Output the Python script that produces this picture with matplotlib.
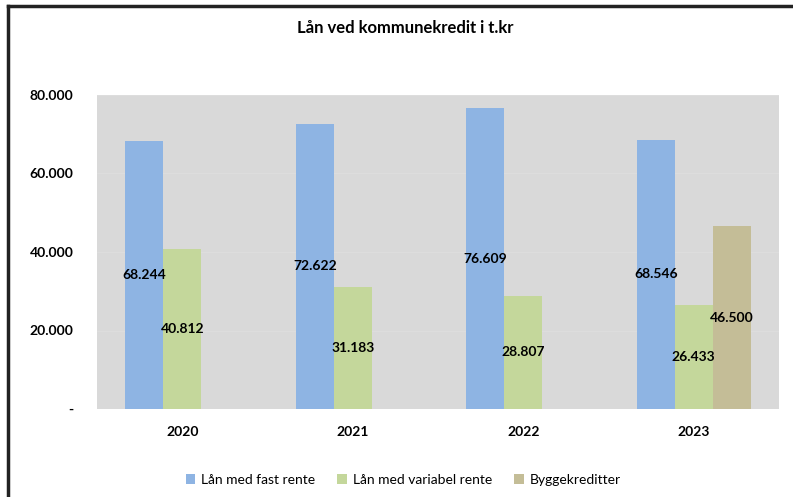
import matplotlib.pyplot as plt
from matplotlib.lines import Line2D
from matplotlib.patches import Patch
import numpy as np

# Colors
BLUE = '#8EB4E3'
GREEN = '#C4D79B'
TAN = '#C4BD97'
BG = '#D9D9D9'

years = ['2020', '2021', '2022', '2023']
fast = [68244, 72622, 76609, 68546]
variabel = [40812, 31183, 28807, 26433]
bygge = [None, None, None, 46500]
series_names = ['Lån med fast rente', 'Lån med variabel rente', 'Byggekreditter']

plt.rcParams['font.family'] = ['Lato', 'DejaVu Sans']


def fmt(v):
	if v == 0:
		return '-'
	return f'{v:,.0f}'.replace(',', '.')


fig = plt.figure(figsize=(7.93, 4.97), dpi=100)
ax = fig.add_axes([97 / 793, 1 - 409 / 497, 682 / 793, 314 / 497])
ax.set_facecolor(BG)

x = np.arange(len(years))
w = 0.2226
series = [fast, variabel, bygge]
colors = [BLUE, GREEN, TAN]
for i, (vals, c) in enumerate(zip(series, colors)):
	for j, v in enumerate(vals):
		if v is None:
			continue
		xpos = x[j] + (i - 1) * w
		ax.bar(xpos, v, width=w, color=c, zorder=2)
		ax.text(xpos, v / 2, fmt(v), ha='center', va='center',
				fontsize=10, fontweight='bold', color='black', zorder=3)

ax.set_xlim(-0.5, 3.5)
ax.set_ylim(0, 80000)
yt = [0, 20000, 40000, 60000, 80000]
ax.set_yticks(yt)
ax.set_yticklabels([fmt(v) for v in yt], fontsize=10, fontweight='bold')
ax.set_xticks(x)
ax.set_xticklabels(years, fontsize=10, fontweight='bold')
ax.tick_params(axis='both', length=0)
ax.tick_params(axis='y', pad=17)
ax.tick_params(axis='x', pad=12)
ax.grid(True, axis='y', color='#DEDEDE', linewidth=0.6, zorder=1)
for s in ax.spines.values():
	s.set_visible(False)

fig.text(405 / 793, 1 - 28 / 497, 'Lån ved kommunekredit i t.kr',
		 ha='center', va='center', fontsize=12, fontweight='bold')

handles = [Patch(facecolor=c, edgecolor='none') for c in colors]
fig.legend(handles, series_names, loc='center', bbox_to_anchor=(403 / 793, 1 - 480 / 497),
		   ncol=3, frameon=False, fontsize=10, handlelength=0.7, handleheight=0.7,
		   handletextpad=0.4, columnspacing=1.6)

# border of the chart box
fig.add_artist(Line2D([8 / 793, 8 / 793], [0, 1 - 6 / 497], transform=fig.transFigure,
					  color='#222222', linewidth=2.5))
fig.add_artist(Line2D([8 / 793, 1], [1 - 6 / 497, 1 - 6 / 497], transform=fig.transFigure,
					  color='#222222', linewidth=2.5))

fig.savefig('out.png', dpi=100)
